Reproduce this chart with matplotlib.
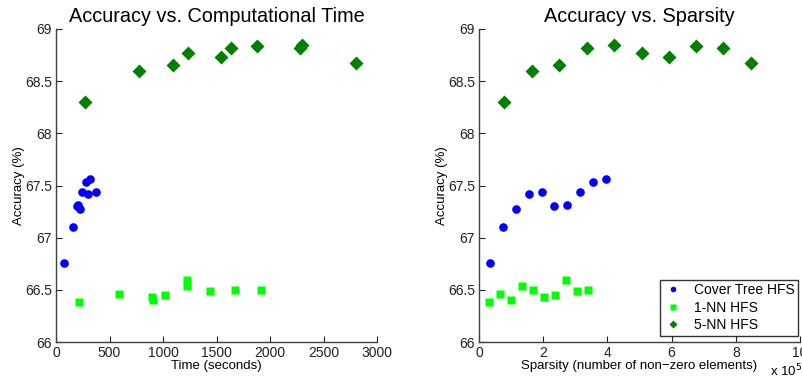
import numpy as np
import matplotlib.pyplot as plt

plt.rcParams['font.family'] = ['Liberation Sans', 'DejaVu Sans']

# Cover Tree HFS
ct_time = [75, 162, 193, 205, 220, 240, 296, 374, 280, 318]
ct_sparsity = [34000, 76000, 235000, 275000, 115000, 195000, 156000, 316000, 355000, 396000]
ct_acc = [66.76, 67.10, 67.305, 67.31, 67.275, 67.435, 67.42, 67.44, 67.53, 67.565]

# 1-NN HFS
nn1_time = [218, 592, 905, 900, 1020, 1221, 1227, 1439, 1676, 1913]
nn1_sparsity = [31000, 64000, 101000, 203000, 238000, 134000, 271000, 306000, 169000, 341000]
nn1_acc = [66.388, 66.462, 66.398, 66.43, 66.455, 66.536, 66.594, 66.488, 66.50, 66.503]

# 5-NN HFS
nn5_time = [271, 773, 1094, 1231, 1539, 1639, 1879, 2278, 2299, 2804]
nn5_sparsity = [79000, 165000, 250000, 507000, 593000, 336000, 677000, 761000, 422000, 846000]
nn5_acc = [68.30, 68.60, 68.655, 68.77, 68.73, 68.82, 68.84, 68.82, 68.85, 68.67]

fig = plt.figure(figsize=(8.02, 3.77), dpi=100)
ax1 = fig.add_axes([56/802, 1-342/377, 321/802, 313/377])
ax2 = fig.add_axes([479/802, 1-342/377, 321/802, 313/377])

def style(ax):
	ax.spines['top'].set_visible(False)
	ax.spines['right'].set_visible(False)
	for s in ['left', 'bottom']:
		ax.spines[s].set_color('#404040')
		ax.spines[s].set_linewidth(1.0)
	ax.tick_params(direction='in', length=4, labelsize=10, colors='#202020', pad=3)
	ax.set_ylim(66, 69)
	ax.set_yticks([66, 66.5, 67, 67.5, 68, 68.5, 69])
	ax.set_yticklabels(['66', '66.5', '67', '67.5', '68', '68.5', '69'])
	ax.set_ylabel('Accuracy (%)', fontsize=9.5, labelpad=0)

def draw(ax, x1, x2, x3):
	ax.plot(x1, ct_acc, 'o', color='#0000ff', ms=6.2, mec='none', label='Cover Tree HFS')
	ax.plot(x2, nn1_acc, 's', color='#00ff00', ms=6.0, mec='none', label='1-NN HFS')
	ax.plot(x3, nn5_acc, 'D', color='#008000', ms=7.0, mec='none', label='5-NN HFS')

draw(ax1, ct_time, nn1_time, nn5_time)
style(ax1)
ax1.set_xlim(0, 3000)
ax1.set_xticks(range(0, 3001, 500))
ax1.set_title('Accuracy vs. Computational Time', fontsize=14.3, pad=5)
ax1.set_xlabel('Time (seconds)', fontsize=9.5, labelpad=0)

sp = lambda v: np.array(v) / 1e5
draw(ax2, sp(ct_sparsity), sp(nn1_sparsity), sp(nn5_sparsity))
style(ax2)
ax2.set_xlim(0, 10)
ax2.set_xticks(range(0, 11, 2))
ax2.set_title('Accuracy vs. Sparsity', fontsize=14.3, pad=5)
ax2.set_xlabel('Sparsity (number of non\u2212zero elements)', fontsize=9.5, labelpad=0)
fig.text(770/802, 1-371/377, 'x 10$^5$', fontsize=9.5, va='center', ha='left')

leg = ax2.legend(loc='lower right', bbox_to_anchor=(0.995, 0.02), fontsize=10, markerscale=0.65,
	frameon=True, fancybox=False, handlelength=1.3, handletextpad=0.9, borderpad=0.25,
	labelspacing=0.25, borderaxespad=0)
leg.get_frame().set_edgecolor('black')
leg.get_frame().set_linewidth(1.0)

fig.savefig('out.png', dpi=100)
